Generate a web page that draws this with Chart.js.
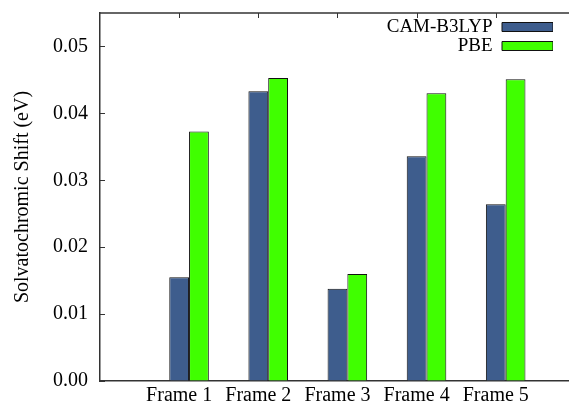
<!DOCTYPE html>
<html>
<head>
<meta charset="utf-8">
<script src="https://cdn.jsdelivr.net/npm/chart.js@4.4.1/dist/chart.umd.min.js"></script>
<style>
    html, body { margin: 0; padding: 0; background: #fff; }
    #wrap { width: 569px; height: 406px; }
</style>
</head>
<body>
<div id="wrap"><canvas id="shiftChart"></canvas></div>
<script>
// values
const frames = ['Frame 1', 'Frame 2', 'Frame 3', 'Frame 4', 'Frame 5'];
const camB3lyp = [0.0155, 0.0433, 0.0138, 0.0336, 0.0264];
const pbe = [0.0373, 0.0453, 0.0160, 0.0430, 0.0451];
const yTicks = [0.00, 0.01, 0.02, 0.03, 0.04, 0.05];

const serif = "'Liberation Serif', 'Times New Roman', serif";
const clusterWidth = 0.5;           // part of a frame slot used by the two bars
const tickShift = clusterWidth / 4; // tics sit under the middle of the first bar
const axisColor = '#333';

// gnuplot style frame: top line and tics pointing inwards
const gnuplotFrame = {
    id: 'gnuplotFrame',
    afterLayout(chart) {
        // move the legend to the top right corner of the plot
        const lg = chart.legend
        const area = chart.chartArea
        const w = lg.width, h = lg.height
        lg.right = area.right - 16
        lg.left = lg.right - w
        lg.top = area.top + 4.5
        lg.bottom = lg.top + h
    },
    beforeDatasetsDraw(chart) {
        const ctx = chart.ctx
        const area = chart.chartArea
        const x = chart.scales.x
        const y = chart.scales.y
        const len = 5
        ctx.save()
        ctx.strokeStyle = axisColor
        ctx.lineWidth = 1.5
        ctx.beginPath()
        ctx.moveTo(area.left, area.top)
        ctx.lineTo(area.right, area.top)
        ctx.stroke()
        ctx.lineWidth = 1
        ctx.beginPath()
        x.ticks.forEach((t, i) => {
            const px = Math.round(x.getPixelForTick(i)) + 0.5
            ctx.moveTo(px, area.bottom)
            ctx.lineTo(px, area.bottom - len)
            ctx.moveTo(px, area.top)
            ctx.lineTo(px, area.top + len)
        })
        y.ticks.forEach((t, i) => {
            const py = Math.round(y.getPixelForTick(i)) + 0.5
            ctx.moveTo(area.left, py)
            ctx.lineTo(area.left + len, py)
        })
        ctx.stroke()
        ctx.restore()
    }
};

const ctx = document.getElementById('shiftChart');
new Chart(ctx, {
    type: 'bar',
    data: {
        datasets: [{
            label: 'CAM-B3LYP',
            data: camB3lyp.map((v, i) => ({ x: i, y: v })),
            backgroundColor: '#3e5d8d',
            borderColor: '#111',
            borderWidth: 1
        }, {
            label: 'PBE',
            data: pbe.map((v, i) => ({ x: i, y: v })),
            backgroundColor: '#40ff00',
            borderColor: '#111',
            borderWidth: 1
        }]
    },
    options: {
        responsive: true,
        maintainAspectRatio: false,
        animation: false,
        datasets: {
            bar: { categoryPercentage: clusterWidth, barPercentage: 1 }
        },
        layout: { padding: { left: 0, top: 13, right: 0, bottom: 0 } },
        scales: {
            x: {
                type: 'linear',
                offset: false,
                min: -1 - tickShift,
                max: 4.8,
                afterBuildTicks: scale => {
                    scale.ticks = frames.map((f, i) => ({ value: i - tickShift }))
                },
                afterFit: scale => {
                    scale.height = 25
                    scale.paddingLeft = 0
                    scale.paddingRight = 0
                },
                grid: { offset: false, drawOnChartArea: false, drawTicks: false },
                border: { display: true, color: axisColor, width: 1.5 },
                ticks: {
                    autoSkip: false,
                    maxRotation: 0,
                    padding: 5,
                    color: '#000',
                    font: { family: serif, size: 20, lineHeight: 1 },
                    callback: (v, i) => frames[i]
                }
            },
            y: {
                min: 0,
                max: 0.055,
                afterBuildTicks: scale => {
                    scale.ticks = yTicks.map(v => ({ value: v }))
                },
                afterFit: scale => {
                    scale.width = 100
                    scale.paddingTop = 0
                    scale.paddingBottom = 0
                },
                grid: { drawOnChartArea: false, drawTicks: false },
                border: { display: true, color: axisColor, width: 1.5 },
                ticks: {
                    padding: 12,
                    color: '#000',
                    font: { family: serif, size: 20, lineHeight: 1 },
                    callback: v => v.toFixed(2)
                },
                title: {
                    display: true,
                    text: 'Solvatochromic Shift (eV)',
                    color: '#000',
                    font: { family: serif, size: 20 },
                    padding: { top: 11, bottom: 18 }
                }
            }
        },
        plugins: {
            legend: {
                position: 'chartArea',
                align: 'start',
                rtl: true,
                labels: {
                    boxWidth: 51,
                    boxHeight: 9,
                    padding: 0,
                    color: '#000',
                    font: { family: serif, size: 19 }
                }
            },
            tooltip: { enabled: false }
        }
    },
    plugins: [gnuplotFrame]
});
</script>
</body>
</html>
